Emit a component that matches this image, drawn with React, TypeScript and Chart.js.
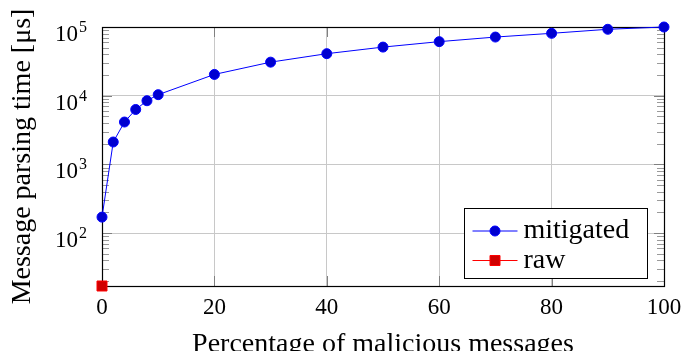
import { useEffect, useRef } from "react";
import { Chart, registerables } from "chart.js";

Chart.register(...registerables);

const percentages = [0, 2, 4, 6, 8, 10, 20, 30, 40, 50, 60, 70, 80, 90, 100];
const mitigatedTimes = [171, 2120, 4140, 6300, 8450, 10350, 20400, 30800, 40900, 51000, 61200, 71400, 80900, 92600, 100000];
const rawPercentages = [0];
const rawTimes = [17];
const xTickStep = 20;
const yMajorTicks = [100, 1000, 10000, 100000];
const yTickExponents = ["2", "3", "4", "5"];
const seriesLabels = ["mitigated", "raw"];
const xTitle = "Percentage of malicious messages";
const yTitle = "Message parsing time [μs]";

const FONT = '"Liberation Serif", "Times New Roman", serif';

const framePlugin = {
  id: "frame",
  beforeDatasetsDraw(chart: any) {
    const { ctx, chartArea: a, scales } = chart;
    const ys = scales.y;
    const xs = scales.x;
    ctx.save();
    ctx.strokeStyle = "#9a9a9a";
    ctx.lineWidth = 1;
    const lo = Math.floor(Math.log10(ys.min));
    const hi = Math.ceil(Math.log10(ys.max));
    for (let e = lo; e <= hi; e++) {
      for (let m = 2; m <= 9; m++) {
        const v = m * Math.pow(10, e);
        if (v < ys.min || v > ys.max) continue;
        const y = Math.round(ys.getPixelForValue(v)) + 0.5;
        ctx.beginPath();
        ctx.moveTo(a.left, y);
        ctx.lineTo(a.left + 7, y);
        ctx.moveTo(a.right, y);
        ctx.lineTo(a.right - 7, y);
        ctx.stroke();
      }
    }
    ctx.strokeStyle = "#808080";
    for (const v of yMajorTicks) {
      const y = Math.round(ys.getPixelForValue(v)) + 0.5;
      ctx.beginPath();
      ctx.moveTo(a.left, y);
      ctx.lineTo(a.left + 10, y);
      ctx.moveTo(a.right, y);
      ctx.lineTo(a.right - 10, y);
      ctx.stroke();
    }
    for (const t of xs.ticks) {
      const x = Math.round(xs.getPixelForValue(t.value)) + 0.5;
      ctx.beginPath();
      ctx.moveTo(x, a.bottom);
      ctx.lineTo(x, a.bottom - 10);
      ctx.moveTo(x, a.top);
      ctx.lineTo(x, a.top + 10);
      ctx.stroke();
    }
    ctx.strokeStyle = "#000";
    ctx.lineWidth = 1.2;
    ctx.strokeRect(Math.round(a.left) + 0.5, Math.round(a.top) + 0.5, Math.round(a.right - a.left), Math.round(a.bottom - a.top));
    ctx.restore();
  },
  afterDraw(chart: any) {
    const { ctx, chartArea: a, scales } = chart;
    const ys = scales.y;
    ctx.save();
    ctx.fillStyle = "#000";
    yMajorTicks.forEach((v, i) => {
      const y = ys.getPixelForValue(v);
      ctx.font = `23px ${FONT}`;
      ctx.textAlign = "right";
      ctx.textBaseline = "alphabetic";
      ctx.fillText("10", a.left - 24, y + 14);
      ctx.font = `16px ${FONT}`;
      ctx.textAlign = "left";
      ctx.fillText(yTickExponents[i], a.left - 23, y + 5);
    });
    const w = 183;
    const h = 70;
    const bx = Math.round(a.right - 17 - w) + 0.5;
    const by = Math.round(a.bottom - 8 - h) + 0.5;
    ctx.fillStyle = "#fff";
    ctx.fillRect(bx, by, w, h);
    ctx.strokeStyle = "#000";
    ctx.lineWidth = 1;
    ctx.strokeRect(bx, by, w, h);
    chart.data.datasets.forEach((ds: any, i: number) => {
      const cy = by + 22.5 + i * 29.5;
      ctx.strokeStyle = ds.borderColor;
      ctx.lineWidth = 1;
      ctx.beginPath();
      ctx.moveTo(bx + 8, cy);
      ctx.lineTo(bx + 53, cy);
      ctx.stroke();
      ctx.fillStyle = ds.pointBackgroundColor;
      ctx.strokeStyle = ds.pointBorderColor;
      const mx = bx + 30.5;
      ctx.beginPath();
      if (ds.pointStyle === "rect") {
        ctx.rect(mx - 5, cy - 5, 10, 10);
      } else {
        ctx.arc(mx, cy, 5, 0, Math.PI * 2);
      }
      ctx.fill();
      ctx.stroke();
      ctx.fillStyle = "#000";
      ctx.font = `28px ${FONT}`;
      ctx.textAlign = "left";
      ctx.textBaseline = "middle";
      ctx.fillText(ds.label, bx + 59, cy);
    });
    ctx.restore();
  },
};

export default function App() {
  const ref = useRef<HTMLCanvasElement | null>(null);
  useEffect(() => {
    if (!ref.current) return;
    const yMin = Math.min(...rawTimes, ...mitigatedTimes);
    const yMax = Math.max(...rawTimes, ...mitigatedTimes);
    const chart = new Chart(ref.current, {
      type: "line",
      data: {
        datasets: [
          {
            label: seriesLabels[0],
            data: percentages.map((x, i) => ({ x, y: mitigatedTimes[i] })),
            borderColor: "#0000ff",
            borderWidth: 1,
            pointBackgroundColor: "#0000d0",
            pointBorderColor: "#0000ff",
            pointBorderWidth: 1,
            pointRadius: 5,
            pointStyle: "circle",
            clip: false,
          } as any,
          {
            label: seriesLabels[1],
            data: rawPercentages.map((x, i) => ({ x, y: rawTimes[i] })),
            borderColor: "#ff0000",
            borderWidth: 1,
            pointBackgroundColor: "#d00000",
            pointBorderColor: "#ff0000",
            pointBorderWidth: 1,
            pointRadius: 7.07,
            pointStyle: "rect",
            clip: false,
          } as any,
        ],
      },
      options: {
        animation: false,
        responsive: false,
        devicePixelRatio: 1,
        layout: { padding: { top: 27, right: 21, left: 0, bottom: 0 } },
        plugins: { legend: { display: false }, tooltip: { enabled: false } },
        scales: {
          x: {
            type: "linear",
            min: 0,
            max: 100,
            ticks: {
              stepSize: xTickStep,
              color: "#000",
              font: { family: FONT, size: 23, lineHeight: 1 },
              padding: 10,
              maxRotation: 0,
            },
            grid: {
              drawTicks: false,
              color: (c: any) => (c.tick && (c.tick.value === 0 || c.tick.value === 100) ? "rgba(0,0,0,0)" : "#c8c8c8"),
              lineWidth: 1,
            },
            border: { display: false },
            title: {
              display: true,
              text: xTitle,
              color: "#000",
              font: { family: FONT, size: 28, lineHeight: 1 },
              padding: { top: 0, bottom: -8 },
            },
            afterFit: (s: any) => {
              s.height = 65;
              s.paddingLeft = 0;
              s.paddingRight = 0;
            },
          },
          y: {
            type: "logarithmic",
            min: yMin,
            max: yMax,
            afterBuildTicks: (s: any) => {
              s.ticks = yMajorTicks.map((v) => ({ value: v }));
            },
            ticks: { display: false },
            grid: { drawTicks: false, color: "#c8c8c8", lineWidth: 1 },
            border: { display: false },
            title: {
              display: true,
              text: yTitle,
              color: "#000",
              font: { family: FONT, size: 28, lineHeight: 1 },
              padding: { top: 9, bottom: 0 },
            },
            afterFit: (s: any) => {
              s.width = 102;
              s.paddingTop = 0;
              s.paddingBottom = 0;
            },
          },
        },
      },
      plugins: [framePlugin],
    } as any);
    return () => chart.destroy();
  }, []);
  return (
    <div style={{ position: "fixed", left: 0, top: 0, width: 685, height: 351, background: "#fff" }}>
      <canvas ref={ref} width={685} height={351} style={{ width: 685, height: 351, display: "block" }} />
    </div>
  );
}
